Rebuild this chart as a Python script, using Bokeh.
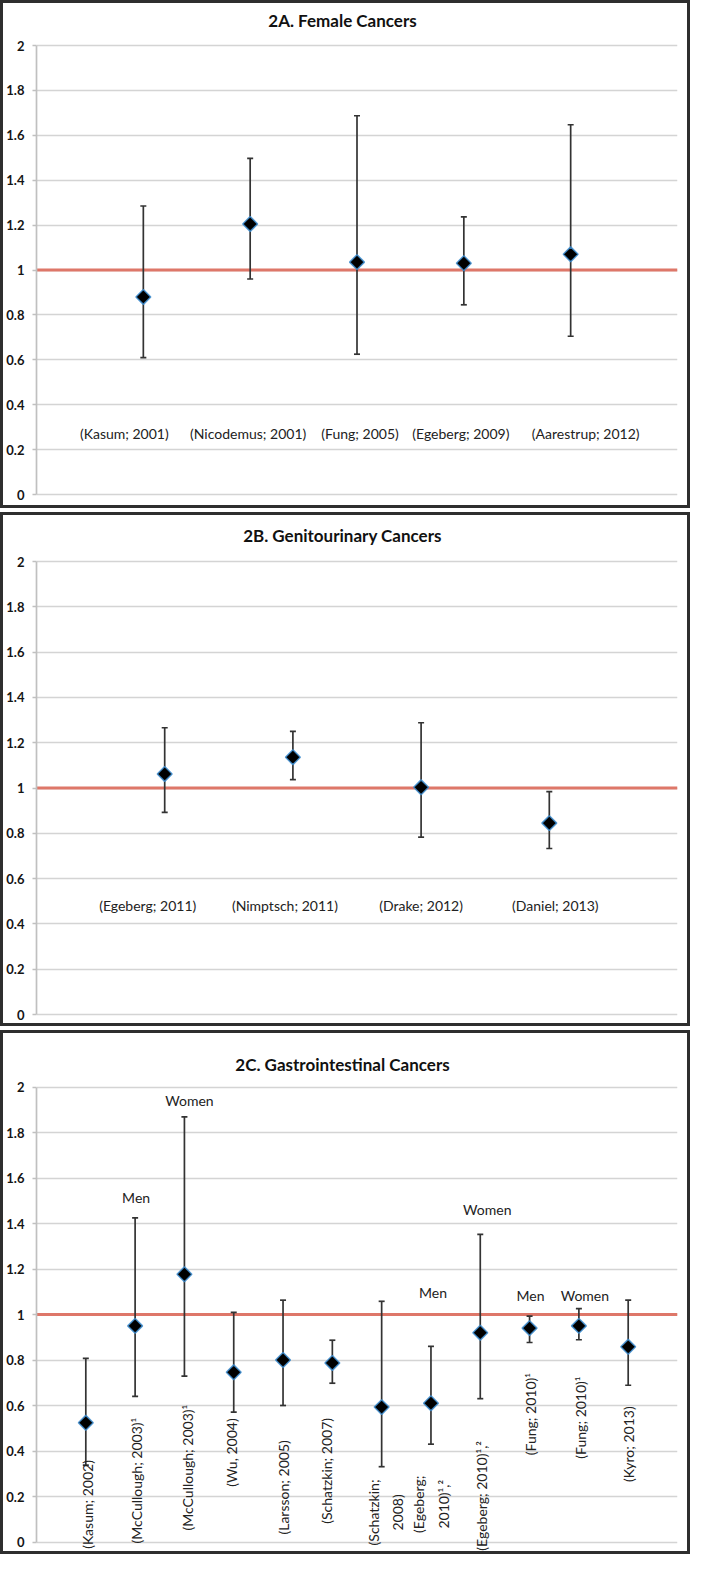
import numpy as np
from bokeh.plotting import figure
from bokeh.models import (ColumnDataSource, Whisker, TeeHead, Span, Label,
                          FixedTicker, NumeralTickFormatter)
from bokeh.layouts import column
from bokeh.embed import file_html
from bokeh.resources import INLINE
from bokeh.core.properties import value

# ---------------- data ----------------
y_ticks = [0, 0.2, 0.4, 0.6, 0.8, 1.0, 1.2, 1.4, 1.6, 1.8, 2.0]

a_title = "2A. Female Cancers"
a_studies = ["(Kasum; 2001)", "(Nicodemus; 2001)", "(Fung; 2005)",
             "(Egeberg; 2009)", "(Aarestrup; 2012)"]
a_rr = [0.88, 1.205, 1.035, 1.03, 1.07]
a_lo = [0.61, 0.96, 0.625, 0.845, 0.705]
a_hi = [1.285, 1.497, 1.687, 1.237, 1.647]

b_title = "2B. Genitourinary Cancers"
b_studies = ["(Egeberg; 2011)", "(Nimptsch; 2011)", "(Drake; 2012)", "(Daniel; 2013)"]
b_rr = [1.062, 1.136, 1.003, 0.845]
b_lo = [0.892, 1.037, 0.783, 0.733]
b_hi = [1.266, 1.25, 1.288, 0.984]

c_title = "2C. Gastrointestinal Cancers"
c_studies = ["(Kasum; 2002)", "(McCullough; 2003)¹", "(McCullough; 2003)¹",
             "(Wu, 2004)", "(Larsson; 2005)", "(Schatzkin; 2007)",
             "(Schatzkin;\n2008)", "(Egeberg;\n2010)¹,²", "(Egeberg; 2010)¹,²",
             "(Fung; 2010)¹", "(Fung; 2010)¹", "(Kyro; 2013)"]
c_group = ["", "Men", "Women", "", "", "", "", "Men", "Women", "Men", "Women", ""]
c_rr = [0.524, 0.95, 1.177, 0.746, 0.80, 0.787, 0.593, 0.61, 0.92, 0.94, 0.95, 0.858]
c_lo = [0.338, 0.64, 0.729, 0.571, 0.60, 0.698, 0.331, 0.43, 0.63, 0.877, 0.889, 0.689]
c_hi = [0.807, 1.425, 1.869, 1.009, 1.063, 0.887, 1.058, 0.86, 1.352, 0.993, 1.026, 1.063]

# ---------------- layout / style constants ----------------
FONT = "Lato"
OUTER_W = 690          # box incl. 3px border (border-box); canvas starts inside border
FRAME_L = 33
FRAME_R = 16
FRAME_W = OUTER_W - FRAME_L - FRAME_R
BORDER = {"border": "3px solid #2e2e2e"}
TITLE_X_PX = 339


def make_panel(title, n, rr, lo, hi, canvas_h, top_px, zero_px, title_px,
               labels=None, label_y=None, label_dx=None, rotated=False,
               groups=None, group_y=None, group_dx=None):
    scale = (zero_px - top_px) / 2.0
    y_hi = 2 + top_px / scale
    y_lo = -(canvas_h - zero_px) / scale
    x_end = n + 1
    p = figure(width=OUTER_W, height=canvas_h, x_range=(0, x_end),
               y_range=(y_lo, y_hi), output_backend="svg", toolbar_location=None,
               x_axis_location=None, y_axis_location="left",
               min_border_left=FRAME_L, min_border_right=FRAME_R,
               min_border_top=0, min_border_bottom=0,
               background_fill_color="white", border_fill_color="white",
               styles=BORDER)
    p.outline_line_color = None
    p.xgrid.visible = False
    p.ygrid.ticker = FixedTicker(ticks=y_ticks)
    p.ygrid.bounds = (0, 2)
    p.ygrid.grid_line_color = "#d4d4d4"
    p.ygrid.grid_line_width = 1.7

    ax = p.yaxis[0]
    ax.ticker = FixedTicker(ticks=y_ticks)
    ax.bounds = (0, 2)
    ax.formatter = NumeralTickFormatter(format="0.[0]")
    ax.axis_line_color = "#c0c0c0"
    ax.axis_line_width = 1.7
    ax.major_tick_line_color = "#c0c0c0"
    ax.major_tick_line_width = 1.7
    ax.major_tick_out = 4
    ax.major_tick_in = 0
    ax.minor_tick_out = 0
    ax.minor_tick_in = 0
    ax.major_label_standoff = 8
    ax.major_label_text_font = FONT
    ax.major_label_text_font_style = "bold"
    ax.major_label_text_font_size = "13px"
    ax.major_label_text_color = "#151515"

    # reference line at RR = 1
    p.add_layout(Span(location=1, dimension="width", line_color="#de7769",
                      line_width=3, level="underlay"))

    xs = list(range(1, n + 1))
    src = ColumnDataSource(dict(x=xs, rr=rr, lo=lo, hi=hi))
    head = dict(size=6, line_color="#333333", line_width=1.7)
    p.add_layout(Whisker(base="x", upper="hi", lower="lo", source=src,
                         line_color="#333333", line_width=1.7,
                         upper_head=TeeHead(**head), lower_head=TeeHead(**head)))
    p.scatter(x="x", y="rr", source=src, marker="square", angle=np.pi / 4,
              size=10.5, fill_color="black", line_color="#3f8fd2",
              line_width=1.5, line_alpha=0.85)

    # study labels
    lsrc = ColumnDataSource(dict(x=xs, y=label_y, text=labels, dx=label_dx))
    p.text(x="x", y="y", text="text", source=lsrc, x_offset="dx",
           angle=(np.pi / 2 if rotated else 0),
           text_align="center", text_baseline="middle",
           text_font=value(FONT), text_font_size="14px", text_color="#222222",
           text_line_height=1.45)

    if groups is not None:
        gx = [i + 1 for i, g in enumerate(groups) if g]
        gt = [g for g in groups if g]
        gsrc = ColumnDataSource(dict(x=gx, y=group_y, text=gt, dx=group_dx))
        p.text(x="x", y="y", text="text", source=gsrc, x_offset="dx",
               text_align="center", text_baseline="middle",
               text_font=value(FONT), text_font_size="14px", text_color="#222222")

    # title
    px_per_x = FRAME_W / x_end
    p.add_layout(Label(x=(TITLE_X_PX - FRAME_L) / px_per_x,
                       y=2 + (top_px - title_px) / scale,
                       text=title, text_font=FONT, text_font_style="bold",
                       text_font_size="17px", text_color="#111111",
                       text_align="center", text_baseline="middle"))
    return p


pA = make_panel(a_title, 5, a_rr, a_lo, a_hi, canvas_h=508, top_px=42,
                zero_px=491, title_px=17,
                labels=a_studies, label_y=[0.27] * 5,
                label_dx=[-19, -2, 3, -3, 15])

pB = make_panel(b_title, 4, b_rr, b_lo, b_hi, canvas_h=514, top_px=46,
                zero_px=499, title_px=20,
                labels=b_studies, label_y=[0.48] * 4,
                label_dx=[-17, -8, 0, 6])

pC = make_panel(c_title, 12, c_rr, c_lo, c_hi, canvas_h=524, top_px=53.5,
                zero_px=508.5, title_px=31,
                labels=c_studies,
                label_y=[0.165, 0.27, 0.327, 0.393, 0.24, 0.313, 0.13, 0.166,
                         0.203, 0.562, 0.547, 0.43],
                label_dx=[2, 1, 3, -2, 0, -6, 4, 0, 1, 1, 2, 0],
                rotated=True,
                groups=c_group,
                group_y=[1.514, 1.942, 1.097, 1.463, 1.085, 1.085],
                group_dx=[1, 5, 2, 7, 1, 6])

layout = column(pA, pB, pC, spacing=4)
open("out.html", "w").write(file_html(layout, INLINE))
